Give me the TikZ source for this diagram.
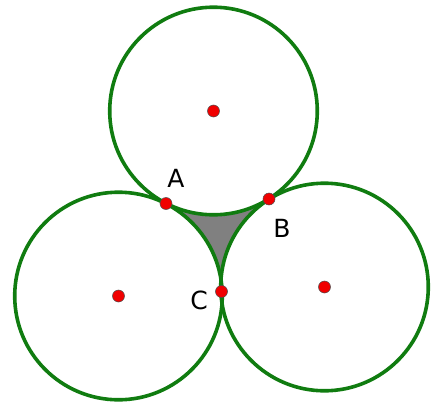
\documentclass[tikz,border=0pt]{standalone}
\usepackage{fontspec}
\setmainfont{DejaVu Sans}
\usetikzlibrary{calc}
\definecolor{cgreen}{RGB}{16,124,16}
\definecolor{cred}{RGB}{240,0,0}
\definecolor{cgray}{RGB}{128,128,128}
\begin{document}
\begin{tikzpicture}[x=1pt,y=-1pt,
  circ/.style={draw=cgreen,line width=3.6pt},
  dot/.style={circle,fill=cred,draw=black!70,line width=0.5pt,inner sep=0pt,minimum size=12pt},
  lbl/.style={font=\fontsize{25}{25}\selectfont,inner sep=0pt}]
\useasboundingbox (0,0) rectangle (432,402);
\coordinate (T) at (213.5,111);
\coordinate (L) at (118.5,296);
\coordinate (R) at (324.5,287);
\def\rr{103.8pt}
% shaded region
\fill[cgray] (T) -- (L) -- (R) -- cycle;
\fill[white] (T) circle[radius=\rr];
\fill[white] (L) circle[radius=\rr];
\fill[white] (R) circle[radius=\rr];
% circles
\draw[circ] (T) circle[radius=\rr];
\draw[circ] (L) circle[radius=\rr];
\draw[circ] (R) circle[radius=\rr];
% centers
\node[dot] (cT) at (T) {};
\node[dot] (cL) at (L) {};
\node[dot] (cR) at (R) {};
% tangent points
\node[dot] (A) at ($(T)!0.5!(L)$) {};
\node[dot] (B) at ($(T)!0.5!(R)$) {};
\node[dot] (C) at ($(L)!0.5!(R)$) {};
\node[lbl] (lA) at (176,178) {A};
\node[lbl] (lB) at (282,228) {B};
\node[lbl] (lC) at (199,300) {C};
\end{tikzpicture}
\end{document}
